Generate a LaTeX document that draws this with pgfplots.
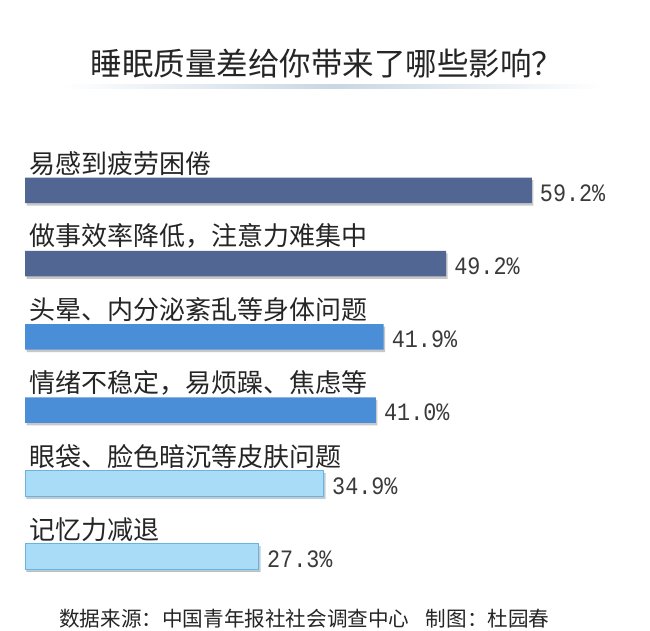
\documentclass[border=0pt]{standalone}
\usepackage{fontspec}
\usepackage{pgfplots}
\pgfplotsset{compat=1.18}
\usetikzlibrary{shadows}
\setmainfont{Noto Sans CJK SC}
\newfontfamily\numfont[FakeStretch=0.87]{Liberation Mono}
\definecolor{darkbar}{HTML}{526694}
\definecolor{midbar}{HTML}{4A8ED8}
\definecolor{lightbar}{HTML}{A8DCF7}
\definecolor{lightedge}{HTML}{6AB2E0}
\definecolor{txt}{HTML}{252525}
\definecolor{numtxt}{HTML}{3A3A3A}
\definecolor{rule}{HTML}{C9D6E3}
\tikzset{catlabel/.style={anchor=south west, inner sep=0pt, xshift=4pt, yshift=14.75pt,
     font=\fontsize{26}{26}\selectfont, text=txt}}
\begin{document}
\begin{tikzpicture}[x=1pt,y=1pt]
\fill[white] (0,0) rectangle (650,631);
\useasboundingbox (0,0) rectangle (650,631);
\node[font=\fontsize{31.5}{31.5}\selectfont, text=txt, inner sep=0] at (327,567) {睡眠质量差给你带来了哪些影响？};
\shade[left color=white, right color=white, middle color=rule] (62,542.5) rectangle (604,546);
\begin{axis}[
  at={(25pt,37.9pt)}, anchor=south west,
  scale only axis, width=599.2pt, height=439.2pt,
  xmin=0, xmax=70, ymin=-0.5, ymax=5.5, y dir=reverse,
  hide axis, clip=false,
  xbar, bar width=25.5pt, bar shift=0pt,
  point meta=x,
  /pgf/number format/assume math mode=true,
  nodes near coords={\pgfmathprintnumber[fixed,fixed zerofill,precision=1,assume math mode=true]{\pgfplotspointmeta}\%},
  nodes near coords style={anchor=west, inner sep=0pt, xshift=8pt, yshift=-2.5pt,
     font=\numfont\fontsize{25}{25}\selectfont, text=numtxt},
  every axis plot/.append style={drop shadow={shadow xshift=1.5pt, shadow yshift=-2.5pt, opacity=0.3, fill=black!70}},
]
\addplot[fill=darkbar, draw=none] coordinates {(59.2,0) (49.2,1)};
\addplot[fill=midbar, draw=none] coordinates {(41.9,2) (41.0,3)};
\addplot[fill=lightbar, draw=lightedge, line width=1pt] coordinates {(34.9,4) (27.3,5)};
\node[catlabel] at (axis cs:0,0) {易感到疲劳困倦};
\node[catlabel] at (axis cs:0,1) {做事效率降低，注意力难集中};
\node[catlabel] at (axis cs:0,2) {头晕、内分泌紊乱等身体问题};
\node[catlabel] at (axis cs:0,3) {情绪不稳定，易烦躁、焦虑等};
\node[catlabel] at (axis cs:0,4) {眼袋、脸色暗沉等皮肤问题};
\node[catlabel] at (axis cs:0,5) {记忆力减退};
\end{axis}
\node[font=\fontsize{20.6}{20.6}\selectfont, text=txt, anchor=west, inner sep=0] at (59,12) {数据来源：中国青年报社社会调查中心\hspace{0.8em}制图：杜园春};
\end{tikzpicture}
\end{document}
